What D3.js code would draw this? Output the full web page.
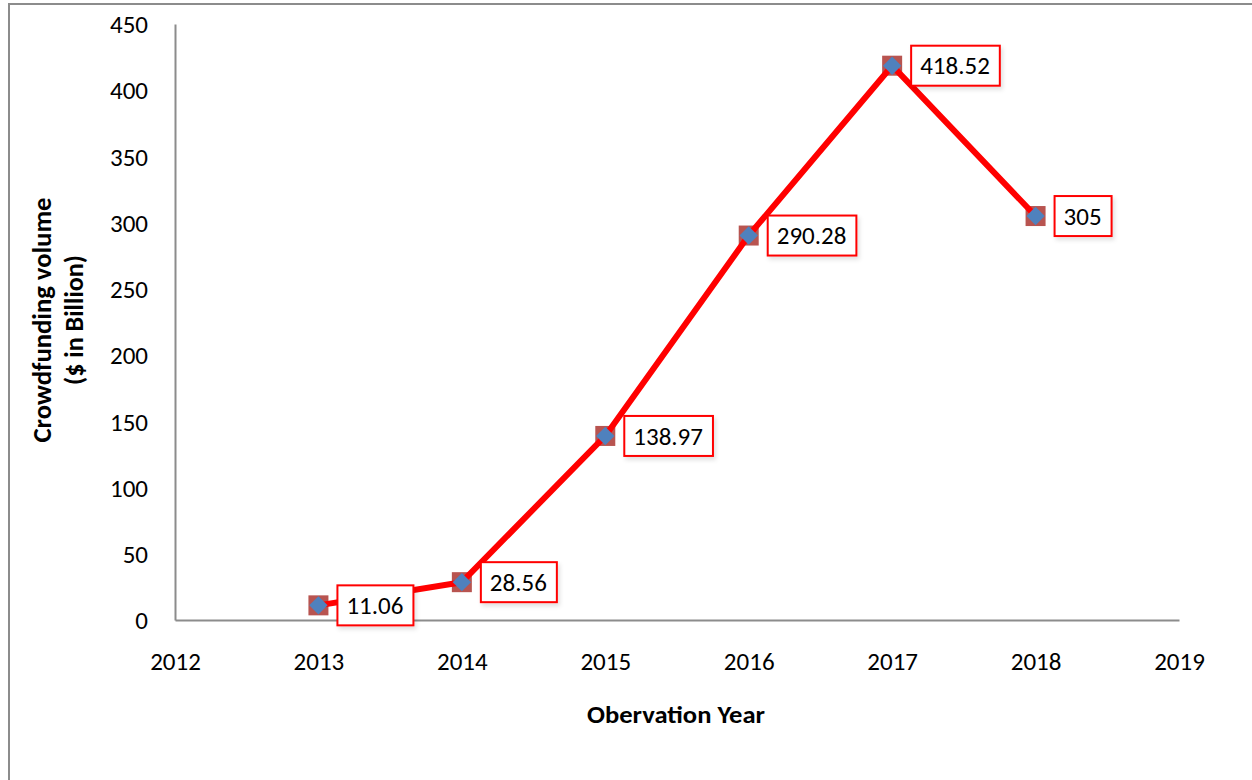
<!DOCTYPE html>
<html>
<head>
<meta charset="utf-8">
<script src="https://cdn.jsdelivr.net/npm/d3@7"></script>
<style>
  body { margin: 0; background: #fff; }
  text { font-family: Carlito, Calibri, Lato, sans-serif; fill: #000; }
</style>
</head>
<body>
<svg id="chart" width="1252" height="780"></svg>
<script>
// chart values
const years = [2013, 2014, 2015, 2016, 2017, 2018];
const volumes = [11.06, 28.56, 138.97, 290.28, 418.52, 305];
const labels = ['11.06', '28.56', '138.97', '290.28', '418.52', '305'];
const xTicks = [2012, 2013, 2014, 2015, 2016, 2017, 2018, 2019];
const yTicks = [0, 50, 100, 150, 200, 250, 300, 350, 400, 450];

const svg = d3.select('#chart');

// faint shadow behind the label boxes
const filter = svg.append('defs').append('filter')
  .attr('id', 'shadow')
  .attr('x', '-20%').attr('y', '-20%')
  .attr('width', '150%').attr('height', '160%');
filter.append('feDropShadow')
  .attr('dx', 2).attr('dy', 3)
  .attr('stdDeviation', 2)
  .attr('flood-color', '#000')
  .attr('flood-opacity', 0.12);

// outer frame
svg.append('rect')
  .attr('x', 9).attr('y', 4)
  .attr('width', 1300).attr('height', 900)
  .attr('fill', 'none')
  .attr('stroke', '#8c8c8c')
  .attr('stroke-width', 2);

const xScale = d3.scaleLinear().domain([2012, 2019]).range([175, 1179]);
const yScale = d3.scaleLinear().domain([0, 450]).range([620, 24]);

// y axis
const yAxis = svg.append('g')
  .attr('transform', 'translate(175,0)')
  .call(d3.axisLeft(yScale).tickValues(yTicks).tickSize(0).tickPadding(27));
yAxis.select('.domain').attr('stroke', '#8c8c8c').attr('stroke-width', 2);
yAxis.selectAll('text').style('font-size', '25px').attr('dy', '0.35em');

// x axis
const xAxis = svg.append('g')
  .attr('transform', 'translate(0,620)')
  .call(d3.axisBottom(xScale).tickValues(xTicks).tickFormat(d3.format('d')).tickSize(0).tickPadding(32));
xAxis.select('.domain').attr('stroke', '#8c8c8c').attr('stroke-width', 2);
xAxis.selectAll('text').style('font-size', '25px');

// axis titles
svg.append('text')
  .attr('x', 676).attr('y', 723)
  .attr('text-anchor', 'middle')
  .attr('textLength', 178)
  .attr('lengthAdjust', 'spacingAndGlyphs')
  .style('font-size', '25px')
  .style('font-weight', 'bold')
  .text('Obervation Year');

const yTitle = svg.append('text')
  .attr('transform', 'translate(51,320) rotate(-90)')
  .attr('text-anchor', 'middle')
  .style('font-size', '26px')
  .style('font-weight', 'bold');
yTitle.append('tspan')
  .attr('x', 0).attr('dy', 0)
  .attr('textLength', 245)
  .attr('lengthAdjust', 'spacingAndGlyphs')
  .text('Crowdfunding volume');
yTitle.append('tspan')
  .attr('x', 0).attr('dy', 32)
  .attr('textLength', 130)
  .attr('lengthAdjust', 'spacingAndGlyphs')
  .text('($ in Billion)');

const data = years.map((y, i) => ({ year: y, value: volumes[i], label: labels[i] }));

// square markers under the line
svg.selectAll('.sq')
  .data(data)
  .enter()
  .append('rect')
  .attr('class', 'sq')
  .attr('x', d => xScale(d.year) - 10)
  .attr('y', d => yScale(d.value) - 10)
  .attr('width', 20).attr('height', 20)
  .attr('fill', '#b85450');

// line
svg.append('path')
  .datum(data)
  .attr('fill', 'none')
  .attr('stroke', '#ff0000')
  .attr('stroke-width', 6)
  .attr('stroke-linejoin', 'round')
  .attr('d', d3.line().x(d => xScale(d.year)).y(d => yScale(d.value)));

// diamond markers on top
svg.selectAll('.dia')
  .data(data)
  .enter()
  .append('path')
  .attr('class', 'dia')
  .attr('transform', d => `translate(${xScale(d.year)},${yScale(d.value)}) rotate(45)`)
  .attr('d', 'M-6.5,-6.5H6.5V6.5H-6.5Z')
  .attr('fill', '#4f81bd');

// data labels
const lab = svg.selectAll('.lab')
  .data(data)
  .enter()
  .append('g')
  .attr('class', 'lab')
  .attr('transform', d => `translate(${xScale(d.year) + 19},${yScale(d.value)})`);

lab.append('text')
  .attr('x', 9)
  .attr('dy', '0.35em')
  .style('font-size', '25px')
  .text(d => d.label);

lab.each(function () {
  const g = d3.select(this);
  const w = g.select('text').node().getComputedTextLength();
  g.insert('rect', 'text')
    .attr('x', 0).attr('y', -20)
    .attr('width', w + 19).attr('height', 40)
    .attr('fill', '#fff')
    .attr('stroke', '#ff0000')
    .attr('stroke-width', 2)
    .attr('filter', 'url(#shadow)');
});
</script>
</body>
</html>
